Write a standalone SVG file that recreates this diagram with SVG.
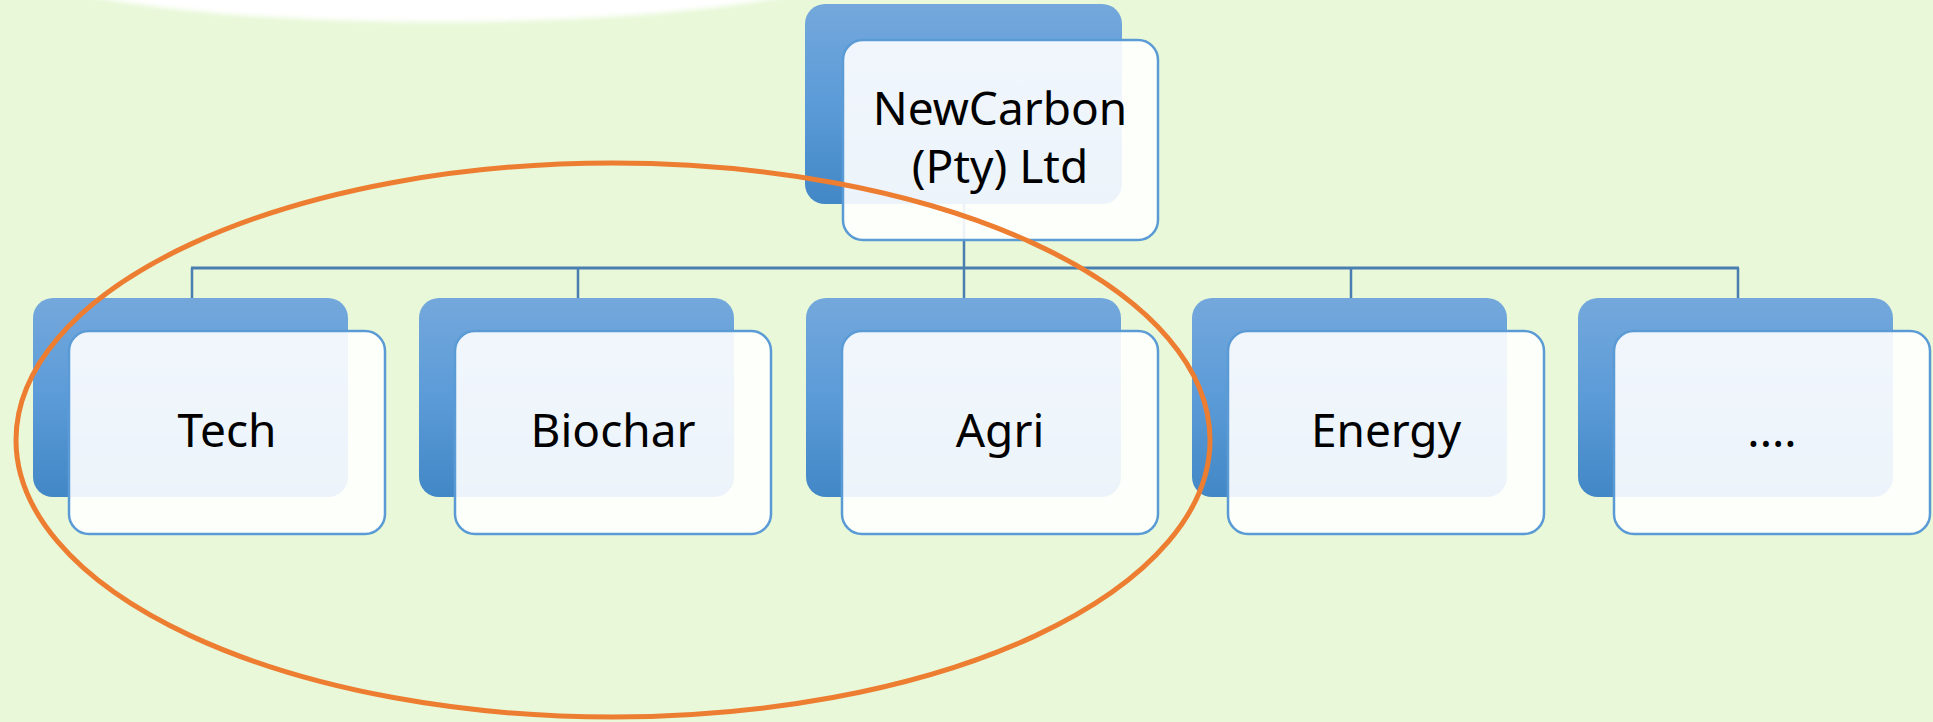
<svg xmlns="http://www.w3.org/2000/svg" width="1933" height="722" viewBox="0 0 1933 722">
<defs>
<linearGradient id="gBack" x1="0" y1="0" x2="0" y2="1">
<stop offset="0" stop-color="#74A8DC"/>
<stop offset="0.5" stop-color="#5B9BD8"/>
<stop offset="1" stop-color="#4287C6"/>
</linearGradient>
<filter id="soft" x="-10%" y="-50%" width="120%" height="200%">
<feGaussianBlur stdDeviation="2.5"/>
</filter>
<style>
.back{fill:url(#gBack);}
.front{fill:#FFFFFF;fill-opacity:0.9;stroke:#5B9BD5;stroke-width:2.5;}
.lbl{font-family:"Noto Sans","Open Sans","DejaVu Sans",sans-serif;font-size:46px;fill:#000000;text-anchor:middle;}
.conn{stroke:#4A7EB0;fill:none;}
</style>
</defs>
<rect x="0" y="0" width="1933" height="722" fill="#E8F8D8"/>
<ellipse cx="438" cy="-40" rx="430" ry="62" fill="#FFFFFF" filter="url(#soft)"/>
<g id="connectors">
<line class="conn" x1="964" y1="204" x2="964" y2="268" stroke-width="2.5"/>
<line class="conn" x1="191" y1="268" x2="1739" y2="268" stroke-width="3"/>
<line class="conn" x1="192" y1="268" x2="192" y2="298" stroke-width="2.5"/>
<line class="conn" x1="578" y1="268" x2="578" y2="298" stroke-width="2.5"/>
<line class="conn" x1="964" y1="268" x2="964" y2="298" stroke-width="2.5"/>
<line class="conn" x1="1351" y1="268" x2="1351" y2="298" stroke-width="2.5"/>
<line class="conn" x1="1738" y1="268" x2="1738" y2="298" stroke-width="2.5"/>
</g>
<g id="node-root">
<rect class="back" x="805" y="4" width="317" height="200" rx="20"/>
<rect class="front" x="843" y="40" width="315" height="200" rx="20"/>
<text class="lbl" x="1000" y="125">NewCarbon</text>
<text class="lbl" x="1000" y="183">(Pty) Ltd</text>
</g>
<g id="node-tech">
<rect class="back" x="33" y="298" width="315" height="199" rx="20"/>
<rect class="front" x="69" y="331" width="316" height="203" rx="20"/>
<text class="lbl" x="227" y="447">Tech</text>
</g>
<g id="node-biochar">
<rect class="back" x="419" y="298" width="315" height="199" rx="20"/>
<rect class="front" x="455" y="331" width="316" height="203" rx="20"/>
<text class="lbl" x="613" y="447">Biochar</text>
</g>
<g id="node-agri">
<rect class="back" x="806" y="298" width="315" height="199" rx="20"/>
<rect class="front" x="842" y="331" width="316" height="203" rx="20"/>
<text class="lbl" x="1000" y="447">Agri</text>
</g>
<g id="node-energy">
<rect class="back" x="1192" y="298" width="315" height="199" rx="20"/>
<rect class="front" x="1228" y="331" width="316" height="203" rx="20"/>
<text class="lbl" x="1386" y="447">Energy</text>
</g>
<g id="node-more">
<rect class="back" x="1578" y="298" width="315" height="199" rx="20"/>
<rect class="front" x="1614" y="331" width="316" height="203" rx="20"/>
<text class="lbl" x="1772" y="447">....</text>
</g>
<ellipse id="highlight" cx="613" cy="440" rx="597" ry="277" fill="none" stroke="#ED7D31" stroke-width="5"/>
</svg>
